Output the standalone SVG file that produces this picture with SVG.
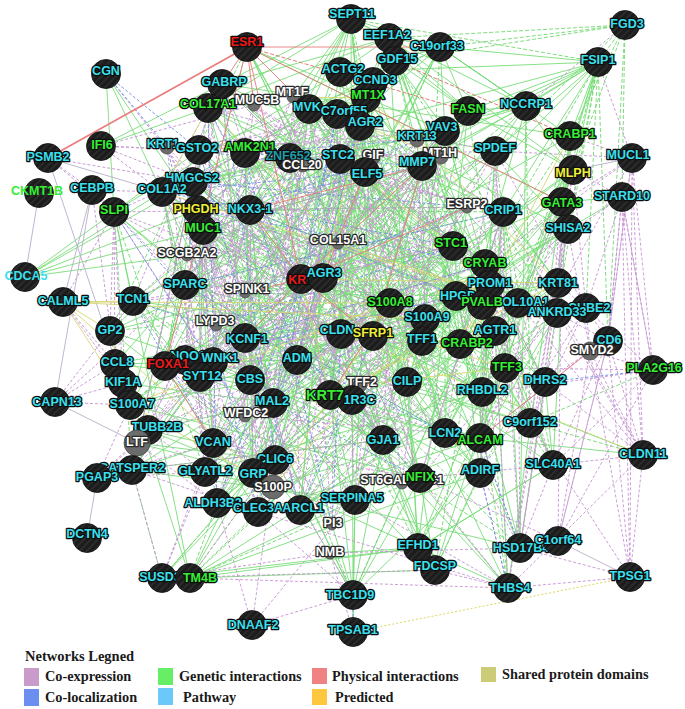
<svg xmlns="http://www.w3.org/2000/svg" width="685" height="709" viewBox="0 0 685 709">
<defs>
<pattern id="hp" width="5" height="5" patternUnits="userSpaceOnUse" patternTransform="rotate(45)"><rect width="5" height="5" fill="#1c1c1c"/><rect width="1.6" height="5" fill="#2e2e2e"/></pattern>
<style>
.n{fill:url(#hp);stroke:#111;stroke-width:0.8}
.gn{fill:#6c6c6c;stroke:#4a4a4a;stroke-width:0.8}
text{font-family:"Liberation Sans",Arial,sans-serif;font-weight:bold;font-size:12.5px;text-anchor:middle;paint-order:stroke;stroke:#0e0e0e;stroke-width:2.6px;stroke-linejoin:round}
.c{fill:#3ae0ee}.gr{fill:#36ee36}.y{fill:#f0f03a}.r{fill:#ec1a1a}.w{fill:#ffffff;stroke:#2a2a2a}.t{fill:#1e9ea8}
.nb{stroke:none}
#connectors path{fill:none;stroke-width:0.9}
.eg{stroke:#78de78}
.egc{stroke:#80e680;stroke-width:1.2}
.egd{stroke:#6fd86f;stroke-dasharray:4 2}
.ep{stroke:#c493d0;stroke-dasharray:3 2}
.ek{stroke:#b8aec8}
.eb{stroke:#6f8ee4;stroke-dasharray:3 2}
.ey{stroke:#d6d672}
.eyd{stroke:#d6d24a;stroke-dasharray:2 2}
.er{stroke:#ea7b7b}
.erd{stroke:#e06a6a;stroke-dasharray:4 2}
.lg{font-family:"Liberation Serif","Times New Roman",serif;font-size:14.3px;fill:#1a1a1a;stroke:none;text-anchor:start}
</style>
</defs>
<rect width="685" height="709" fill="#ffffff"/>
<g id="connectors">
<path class="eg" d="M351 19L185 285L355 500L422 166L545 382L222 84L482 305L353 595L162 192L530 423L337 114L341 334L435 570L250 210L275 460L445 131L297 360L213 362L323 278L420 478L340 159L407 382L247 47L390 303L132 470L193 182L130 405L309 109L495 331L508 588L197 210L213 443L526 106L460 344L352 400L485 264L253 473L245 153L250 380L440 47L133 301L300 510L573 170L273 403L366 98L110 331L190 578L114 212L383 440L468 111L245 338L518 303L453 246L480 473L199 150L200 377L395 61L558 283L258 512L365 172L330 395L373 82L425 319L520 548L503 212L480 438L208 108L422 341L456 296L568 229L205 472L598 62L505 368L389 38L490 285L217 503L495 151L482 392L340 72L557 313L418 548L562 202L445 433L360 126L373 336L301 279L203 230L553 465L570 136L165 366L351 19"/>
<path class="eg" d="M351 19L365 172L495 331L553 465L395 61L193 182L373 336L480 473L247 47L562 202L245 338L420 478L340 72L114 212L297 360L217 503L366 98L250 210L505 368L300 510L337 114L568 229L250 380L353 595L208 108L485 264L545 382L520 548L526 106L185 285L330 395L508 588L570 136L558 283L130 405L301 279L199 150L390 303L445 433L518 303L340 159L557 313L383 440L213 362L495 151L110 331L275 460L389 38L573 170L341 334L205 472L440 47L162 192L422 341L253 473L222 84L503 212L460 344L355 500L373 82L197 210L165 366L258 512L309 109L203 230L200 377L132 470L360 126L453 246L407 382L418 548L468 111L323 278L482 392L190 578L445 131L490 285L273 403L435 570L598 62L133 301L530 423L456 296L245 153L482 305L480 438L352 400L422 166L425 319L213 443L351 19"/>
<path class="eg" d="M351 19L360 126L495 151L568 229L425 319L200 377L383 440L300 510L352 400L309 109L340 159L250 210L482 305L165 366L445 433L217 503L456 296L373 82L199 150L114 212L133 301L460 344L130 405L420 478L435 570L222 84L570 136L562 202L490 285L422 341L330 395L480 473L190 578L440 47L526 106L193 182L323 278L341 334L545 382L553 465L418 548L389 38L208 108L365 172L453 246L110 331L250 380L213 443L132 470L213 362L337 114L422 166L203 230L557 313L505 368L480 438L258 512L518 303L366 98L245 153L197 210L390 303L297 360L530 423L355 500L301 279L340 72L598 62L503 212L558 283L245 338L273 403L253 473L508 588L247 47L445 131L162 192L185 285L373 336L482 392L205 472L520 548L395 61L468 111L573 170L485 264L495 331L407 382L275 460L353 595L351 19"/>
<path class="egc" d="M245 153L203 230L185 285L297 360L187 255L197 210L245 293L422 341L213 362L250 210L301 279L373 336L482 392L309 109L323 278L341 334L445 433L360 126L485 264L490 285L383 440L445 131L467 207L456 296L460 344L422 166L503 212L425 319L273 403L365 172L453 246L390 303L330 395L340 159L338 243L245 338L407 382L290 158L193 182L216 325L250 380L245 153"/>
<path class="egc" d="M245 153L323 278L273 403L203 230L341 334L365 172L185 285L445 433L453 246L297 360L360 126L390 303L187 255L485 264L330 395L197 210L490 285L340 159L245 293L383 440L338 243L422 341L445 131L245 338L213 362L467 207L407 382L250 210L456 296L290 158L301 279L460 344L193 182L373 336L422 166L216 325L482 392L503 212L250 380L309 109L425 319L245 153"/>
<path class="egd" d="M351 19L390 303L190 578L568 229L355 500L193 182L383 440L598 62L545 382L309 109L245 338L389 38L482 305L508 588L453 246L217 503L162 192L213 443L199 150L482 392L337 114L460 344L395 61L557 313L435 570L485 264L258 512L562 202L275 460L245 153L330 395L360 126L297 360L440 47L425 319L301 279L323 278L300 510L503 212L553 465L340 159L273 403L208 108L165 366L247 47L110 331L456 296L185 285L132 470L114 212L205 472L422 166L130 405L468 111L505 368L222 84L495 331L518 303L490 285L353 595L197 210L480 473L495 151L530 423L526 106L200 377L340 72L341 334L352 400L558 283L418 548L250 210L253 473L365 172L445 433L445 131L250 380L373 82L373 336L213 362L133 301L520 548L203 230L420 478L573 170L480 438L570 136L407 382L366 98L422 341L351 19"/>
<path class="egd" d="M245 153L360 126L338 243L301 279L425 319L297 360L383 440L290 158L309 109L453 246L245 293L456 296L250 380L445 433L340 159L250 210L503 212L185 285L490 285L407 382L482 392L365 172L197 210L467 207L216 325L341 334L330 395L213 362L422 166L203 230L485 264L245 338L373 336L273 403L187 255L445 131L193 182L323 278L390 303L422 341L460 344L245 153"/>
<path class="eg" d="M106 74L162 192M106 74L114 212M106 74L197 210M101 146L208 108M101 146L222 84M25 277L114 212M25 277L162 192M25 277L193 182M25 277L197 210M25 277L203 230M25 277L187 255M351 19L340 72M351 19L309 109M351 19L222 84M351 19L389 38M351 19L440 47M351 19L208 108M351 19L293 97M351 19L360 126M351 19L468 111M351 19L526 106M389 38L468 111M389 38L340 72M389 38L366 98M389 38L222 84M440 47L395 61M440 47L468 111M440 47L445 131M440 47L526 106M440 47L389 38M598 62L440 47M598 62L526 106M598 62L468 111M598 62L445 131M598 62L570 136M598 62L495 151M598 62L573 170M598 62L422 166M598 62L360 126M526 106L468 111M526 106L445 131M526 106L495 151M526 106L570 136M526 106L573 170M622 197L562 202M622 197L568 229M643 455L480 438M643 455L482 392M162 578L418 548M190 578L355 500M190 578L435 570M190 578L418 548M353 632L353 595M353 632L355 500M330 553L418 548M418 548L553 465M115 364L297 360M115 364L185 285M115 364L245 338M115 364L250 380M123 383L273 403M123 383L213 443M148 430L275 460M148 430L253 473M148 430L273 403M137 443L253 473M137 443L275 460M132 470L383 440M132 470L355 500M353 595L355 500M353 595L383 440M353 595L420 478M353 595L330 395M353 595L480 473M162 578L275 460M162 578L253 473M418 548L383 440M435 570L480 473"/>
<path class="egd" d="M625 25L440 47M625 25L389 38M625 25L395 61M625 25L598 62M625 25L570 136M625 25L573 170M625 25L622 197M625 25L495 151M625 25L608 341M598 62L351 19M598 62L562 202M598 62L568 229M598 62L608 341M598 62L586 308M526 106L440 47M643 455L530 423M653 370L530 423M162 578L253 473M190 578L420 478M190 578L217 503M162 578L132 470M190 578L258 512"/>
<path class="ep" d="M222 84L187 255L205 472L467 207L373 336L250 210L253 473L495 151L360 126L162 192L213 443L445 131L137 443L374 158L273 403L422 166L165 366L303 165L250 380L301 279L114 212L245 153L213 362L330 395L445 433L167 147L245 338L355 500L383 440L309 109L245 293L300 510L456 296L254 105L338 243L217 503L453 246L341 334L203 230L273 487L503 212L337 114L197 210L275 460L441 157L132 470L193 182L245 416L417 140L148 430L340 159L297 360L365 172L133 301L290 158L200 377L323 278L420 478L199 150L185 360L360 385L402 483L208 108L216 325L332 525L425 319L293 97L185 285L258 512L485 264L222 84"/>
<path class="ep" d="M222 84L303 165L338 243L297 360L258 512L422 166L456 296L148 430L293 97L374 158L245 293L245 416L332 525L445 131L383 440L132 470L208 108L162 192L245 338L275 460L360 385L495 151L445 433L337 114L199 150L250 210L213 362L273 487L323 278L467 207L114 212L341 334L290 158L187 255L250 380L217 503L365 172L485 264L165 366L254 105L340 159L185 285L273 403L300 510L417 140L425 319L137 443L309 109L193 182L216 325L213 443L355 500L441 157L402 483L360 126L167 147L197 210L185 360L253 473L330 395L503 212L420 478L373 336L245 153L203 230L200 377L205 472L301 279L453 246L133 301L222 84"/>
<path class="ep" d="M222 84L245 416L445 433L187 255L417 140L167 147L205 472L148 430L245 338L467 207L340 159L355 500L373 336L297 360L383 440L250 210L365 172L309 109L253 473L133 301L245 293L495 151L290 158L300 510L360 126L200 377L456 296L162 192L323 278L254 105L213 443L420 478L338 243L445 131L199 150L217 503L137 443L185 360L453 246L374 158L360 385L341 334L273 403L402 483L203 230L422 166L208 108L273 487L165 366L216 325L503 212L303 165L332 525L337 114L250 380L425 319L197 210L301 279L293 97L275 460L114 212L185 285L441 157L245 153L258 512L132 470L213 362L485 264L193 182L330 395L222 84"/>
<path class="ep" d="M245 153L453 246L490 285L213 362L193 182L425 319L445 433L197 210L245 338L460 344L309 109L185 285L330 395L445 131L301 279L250 380L365 172L485 264L422 341L290 158L503 212L341 334L187 255L338 243L456 296L482 392L203 230L390 303L383 440L250 210L216 325L273 403L360 126L245 293L407 382L422 166L323 278L297 360L340 159L467 207L373 336L245 153"/>
<path class="ep" d="M632 158L485 264L545 382L520 548L518 303L568 229L590 351L480 438L482 393L562 202L557 313L643 455L508 588L573 170L558 283L653 370L558 541L420 478L503 212L495 331L480 473L490 285L622 197L608 341L553 465L505 368L495 151L586 308L530 423L630 577L632 158"/>
<path class="ep" d="M632 158L608 341L558 541L562 202L545 382L505 368L503 212L643 455L518 303L586 308L480 473L573 170L590 351L630 577L622 197L653 370L482 393L485 264L553 465L420 478L557 313L520 548L495 151L495 331L508 588L568 229L530 423L490 285L558 283L480 438L632 158"/>
<path class="ep" d="M106 74L193 182M101 146L199 150M101 146L245 153M101 146L162 192M101 146L254 105M101 146L193 182M48 158L92 190M48 158L114 212M48 158L193 182M92 190L115 364M92 190L114 212M92 190L162 192M63 302L115 364M63 302L123 383M63 302L114 212M114 212L110 331M114 212L115 364M114 212L123 383M55 402L115 364M55 402L123 383M55 402L130 405M55 402L133 301M55 402L185 285M97 478L132 470M97 478L137 443M97 478L130 405M97 478L148 430M97 478L213 443M97 478L205 472M162 578L132 470M162 578L213 443M162 578L205 472M190 578L275 460M190 578L508 588M252 625L353 595M252 625L217 503M252 625L355 500M252 625L275 460M330 553L162 578M330 553L520 548M435 570L162 578M435 570L508 588M520 548L553 465M520 548L480 438M520 548L480 473M520 548L630 577M558 541L608 341M558 541L590 351M508 588L630 577M508 588L355 500M508 588L420 478M508 588L480 473M508 588L258 512M630 577L643 455M630 577L608 341M643 455L553 465M643 455L545 382M643 455L590 351M643 455L608 341M643 455L622 197M643 455L632 158M653 370L590 351M653 370L553 465M653 370L632 158M653 370L622 197M653 370L505 368M608 341L590 351M608 341L557 313M608 341L586 308M608 341L632 158M608 341L622 197M590 351L545 382M632 158L570 136M632 158L495 151M632 158L598 62M632 158L562 202M622 197L586 308M622 197L573 170M625 25L526 106M353 595L275 460M353 595L258 512M353 632L330 553"/>
<path class="ek" d="M48 158L162 192M48 158L130 405M39 193L25 277M92 190L55 402M55 402L137 443M97 478L87 538M632 158L573 170M558 541L630 577M63 302L92 190"/>
<path class="eb" d="M222 84L275 460L165 366L185 360L456 296L250 210L417 140L245 153L332 525L341 334L213 443L133 301L245 338L485 264L197 210L422 166L199 150L300 510L373 336L245 416L114 212L216 325L453 246L162 192L365 172L167 147L258 512L337 114L273 403L420 478L245 293L467 207L193 182L301 279L208 108L217 503L360 126L297 360L445 433L185 285L503 212"/>
<path class="eb" d="M106 74L167 147M106 74L199 150M653 370L545 382M353 632L353 595M520 548L480 438M508 588L480 473"/>
<path class="ey" d="M63 302L133 301M63 302L390 303M63 302L425 319M63 302L130 405M63 302L273 487M63 302L110 331M130 405L273 487M390 303L425 319M390 303L273 487M425 319L273 487M130 405L390 303M301 279L330 395M417 140L558 283M301 279L558 283M330 395L558 283M360 126L323 278M422 341L505 368M360 385L422 341M360 385L505 368M570 136L460 344M366 98L293 97M441 157L366 98M441 157L293 97M453 246L340 159M208 108L162 192M338 243L518 303M162 192L518 303M208 108L338 243"/>
<path class="eyd" d="M341 334L643 455M353 632L630 577"/>
<path class="er" d="M247 47L440 47M247 47L301 279M247 47L562 202M247 47L309 109M247 47L222 84M247 47L165 366M247 47L254 105M301 279L422 166M301 279L245 293M301 279L467 207M301 279L245 338M301 279L250 210M323 278L365 172M301 279L373 336M590 351L480 438M165 366L213 443M422 166L373 336M422 166L468 111M250 210L422 166M390 303L330 395"/>
<path class="er" style="stroke-width:1.6" d="M48 158L247 47"/>
<path class="erd" d="M247 47L468 111M395 61L570 136"/>
</g>
<g id="nodes">
<g id="n-ESR1"><circle class="n" cx="247" cy="47" r="14.5"/><text class="r" x="247" y="45.5">ESR1</text></g>
<g id="n-SEPT11"><circle class="n" cx="351" cy="19" r="14.5"/><text class="c" x="352" y="17.5">SEPT11</text></g>
<g id="n-EEF1A2"><circle class="n" cx="389" cy="38" r="14.5"/><text class="c" x="387" y="38.5">EEF1A2</text></g>
<g id="n-C19orf33"><circle class="n" cx="440" cy="47" r="14.5"/><text class="c" x="437" y="49.5">C19orf33</text></g>
<g id="n-GDF15"><circle class="n" cx="395" cy="61" r="14.5"/><text class="c" x="397" y="62.5">GDF15</text></g>
<g id="n-FGD3"><circle class="n" cx="625" cy="25" r="14.5"/><text class="c" x="627" y="27.5">FGD3</text></g>
<g id="n-FSIP1"><circle class="n" cx="598" cy="62" r="14.5"/><text class="c" x="598" y="63.5">FSIP1</text></g>
<g id="n-CGN"><circle class="n" cx="106" cy="74" r="14.5"/><text class="c" x="106" y="74.5">CGN</text></g>
<g id="n-GABRP"><circle class="n" cx="222" cy="84" r="14.5"/><text class="c" x="224" y="85.5">GABRP</text></g>
<g id="n-ACTG2"><circle class="n" cx="340" cy="72" r="14.5"/><text class="c" x="343" y="72.5">ACTG2</text></g>
<g id="n-CCND3"><circle class="n" cx="373" cy="82" r="14.5"/><text class="c" x="375" y="83.5">CCND3</text></g>
<g id="n-MT1X"><circle class="n" cx="366" cy="98" r="14.5"/><text class="gr" x="368" y="98.5">MT1X</text></g>
<g id="n-MT1F"><circle class="gn" cx="293" cy="97" r="6"/><text class="w" x="292" y="95.5">MT1F</text></g>
<g id="n-MUC5B"><circle class="gn" cx="254" cy="105" r="6"/><text class="w" x="257" y="103.5">MUC5B</text></g>
<g id="n-MVK"><circle class="n" cx="309" cy="109" r="14.5"/><text class="c" x="307" y="110.5">MVK</text></g>
<g id="n-C7orf55"><circle class="n" cx="337" cy="114" r="14.5"/><text class="c" x="344" y="114.5">C7orf55</text></g>
<g id="n-AGR2"><circle class="n" cx="360" cy="126" r="14.5"/><text class="c" x="365" y="125.5">AGR2</text></g>
<g id="n-COL17A1"><circle class="n" cx="208" cy="108" r="14.5"/><text class="gr" x="208" y="107.5">COL17A1</text></g>
<g id="n-NCCRP1"><circle class="n" cx="526" cy="106" r="14.5"/><text class="c" x="526" y="107.5">NCCRP1</text></g>
<g id="n-FASN"><circle class="n" cx="468" cy="111" r="14.5"/><text class="gr" x="468" y="112.5">FASN</text></g>
<g id="n-VAV3"><circle class="n" cx="445" cy="131" r="14.5"/><text class="c" x="442" y="130.5">VAV3</text></g>
<g id="n-KRT13"><circle class="gn" cx="417" cy="140" r="7"/><text class="c" x="417" y="139.5">KRT13</text></g>
<g id="n-CRABP1"><circle class="n" cx="570" cy="136" r="14.5"/><text class="gr" x="570" y="137.5">CRABP1</text></g>
<g id="n-IFI6"><circle class="n" cx="101" cy="146" r="14.5"/><text class="gr" x="102" y="148.5">IFI6</text></g>
<g id="n-PSMB2"><circle class="n" cx="48" cy="158" r="14.5"/><text class="c" x="48" y="160.5">PSMB2</text></g>
<g id="n-KRT1"><circle class="gn" cx="167" cy="147" r="7"/><text class="c" x="163" y="147.5">KRT1</text></g>
<g id="n-GSTO2"><circle class="n" cx="199" cy="150" r="14.5"/><text class="c" x="197" y="151.5">GSTO2</text></g>
<g id="n-AMK2N1"><circle class="n" cx="245" cy="153" r="14.5"/><text class="gr" x="250" y="150.5">AMK2N1</text></g>
<g id="n-ZNF652"><circle class="n" cx="290" cy="158" r="14.5"/><text class="t" x="288" y="159.5">ZNF652</text></g>
<g id="n-CCL20"><circle class="gn" cx="303" cy="166" r="6"/><text class="w" x="302" y="168.5">CCL20</text></g>
<g id="n-STC2"><circle class="n" cx="340" cy="159" r="14.5"/><text class="c" x="338" y="158.5">STC2</text></g>
<g id="n-GIF"><circle class="gn" cx="374" cy="158" r="6"/><text class="w" x="373" y="158.5">GIF</text></g>
<g id="n-MT1H"><circle class="gn" cx="441" cy="157" r="7"/><text class="w" x="440" y="156.5">MT1H</text></g>
<g id="n-MMP7"><circle class="n" cx="422" cy="166" r="14.5"/><text class="c" x="417" y="165.5">MMP7</text></g>
<g id="n-SPDEF"><circle class="n" cx="495" cy="151" r="14.5"/><text class="c" x="495" y="151.5">SPDEF</text></g>
<g id="n-MUCL1"><circle class="n" cx="632" cy="158" r="14.5"/><text class="c" x="628" y="158.5">MUCL1</text></g>
<g id="n-ELF5"><circle class="n" cx="365" cy="172" r="14.5"/><text class="c" x="367" y="178">ELF5</text></g>
<g id="n-GATA3"><circle class="n" cx="562" cy="202" r="14.5"/><text class="gr" x="562" y="206.5">GATA3</text></g>
<g id="n-MLPH"><circle class="n" cx="573" cy="170" r="14.5"/><text class="y" x="573" y="177">MLPH</text></g>
<g id="n-HMGCS2"><circle class="n" cx="193" cy="182" r="14.5"/><text class="c" x="192" y="181.5">HMGCS2</text></g>
<g id="n-CKMT1B"><circle class="n" cx="39" cy="193" r="14.5"/><text class="gr nb" x="37" y="194.5">CKMT1B</text></g>
<g id="n-CEBPB"><circle class="n" cx="92" cy="190" r="14.5"/><text class="c" x="92" y="191.5">CEBPB</text></g>
<g id="n-COL1A2"><circle class="n" cx="162" cy="192" r="14.5"/><text class="c" x="162" y="192.5">COL1A2</text></g>
<g id="n-STARD10"><circle class="n" cx="622" cy="197" r="14.5"/><text class="c" x="622" y="199.5">STARD10</text></g>
<g id="n-ESRP2"><circle class="gn" cx="467" cy="207" r="6"/><text class="w" x="467" y="207.5">ESRP2</text></g>
<g id="n-CRIP1"><circle class="n" cx="503" cy="212" r="14.5"/><text class="c" x="503" y="213.5">CRIP1</text></g>
<g id="n-SLPI"><circle class="n" cx="114" cy="212" r="14.5"/><text class="gr" x="114" y="213.5">SLPI</text></g>
<g id="n-PHGDH"><circle class="n" cx="197" cy="210" r="14.5"/><text class="y" x="196" y="212.5">PHGDH</text></g>
<g id="n-NKX3-1"><circle class="n" cx="250" cy="210" r="14.5"/><text class="c" x="250" y="212.5">NKX3-1</text></g>
<g id="n-MUC1"><circle class="n" cx="203" cy="230" r="14.5"/><text class="gr" x="203" y="231.5">MUC1</text></g>
<g id="n-SHISA2"><circle class="n" cx="568" cy="229" r="14.5"/><text class="c" x="568" y="231.5">SHISA2</text></g>
<g id="n-COL15A1"><circle class="gn" cx="338" cy="243" r="6"/><text class="w" x="338" y="243.5">COL15A1</text></g>
<g id="n-STC1"><circle class="n" cx="453" cy="246" r="14.5"/><text class="gr" x="451" y="246.5">STC1</text></g>
<g id="n-SCGB2A2"><circle class="gn" cx="187" cy="255" r="6"/><text class="w" x="187" y="256.5">SCGB2A2</text></g>
<g id="n-CRYAB"><circle class="n" cx="485" cy="264" r="14.5"/><text class="gr" x="485" y="266.5">CRYAB</text></g>
<g id="n-CDCA5"><circle class="n" cx="25" cy="277" r="14.5"/><text class="c nb" x="26" y="279.5">CDCA5</text></g>
<g id="n-KRT17"><circle class="n" cx="301" cy="279" r="14.5"/><text class="r" x="308" y="283.5">KRT17</text></g>
<g id="n-AGR3"><circle class="n" cx="323" cy="278" r="14.5"/><text class="c" x="324" y="276.5">AGR3</text></g>
<g id="n-SPARC"><circle class="n" cx="185" cy="285" r="14.5"/><text class="c" x="185" y="287.5">SPARC</text></g>
<g id="n-PROM1"><circle class="n" cx="490" cy="285" r="14.5"/><text class="c" x="490" y="286.5">PROM1</text></g>
<g id="n-KRT81"><circle class="n" cx="558" cy="283" r="14.5"/><text class="c" x="558" y="286.5">KRT81</text></g>
<g id="n-SPINK1"><circle class="gn" cx="245" cy="293" r="5"/><text class="w" x="247" y="292.5">SPINK1</text></g>
<g id="n-HPGD"><circle class="n" cx="456" cy="296" r="14.5"/><text class="c" x="458" y="299.5">HPGD</text></g>
<g id="n-COL10A1"><circle class="n" cx="518" cy="303" r="14.5"/><text class="c" x="521" y="305.5">COL10A1</text></g>
<g id="n-PVALB"><circle class="n" cx="482" cy="305" r="14.5"/><text class="gr" x="482" y="305.5">PVALB</text></g>
<g id="n-CALML5"><circle class="n" cx="63" cy="302" r="14.5"/><text class="c" x="63" y="304.5">CALML5</text></g>
<g id="n-TCN1"><circle class="n" cx="133" cy="301" r="14.5"/><text class="c" x="133" y="302.5">TCN1</text></g>
<g id="n-S100A8"><circle class="n" cx="390" cy="303" r="14.5"/><text class="gr" x="390" y="305.5">S100A8</text></g>
<g id="n-SCUBE2"><circle class="n" cx="586" cy="308" r="14.5"/><text class="c" x="585" y="311.5">SCUBE2</text></g>
<g id="n-ANKRD33"><circle class="n" cx="557" cy="313" r="14.5"/><text class="c" x="557" y="315.5">ANKRD33</text></g>
<g id="n-S100A9"><circle class="n" cx="425" cy="319" r="14.5"/><text class="c" x="427" y="320.5">S100A9</text></g>
<g id="n-LYPD3"><circle class="gn" cx="216" cy="325" r="6"/><text class="w" x="215" y="324.5">LYPD3</text></g>
<g id="n-GP2"><circle class="n" cx="110" cy="331" r="14.5"/><text class="c" x="110" y="333.5">GP2</text></g>
<g id="n-AGTR1"><circle class="n" cx="495" cy="331" r="14.5"/><text class="c" x="495" y="333.5">AGTR1</text></g>
<g id="n-CLDN"><circle class="n" cx="341" cy="334" r="14.5"/><text class="c" x="337" y="333.5">CLDN</text></g>
<g id="n-SFRP1"><circle class="n" cx="373" cy="336" r="14.5"/><text class="y" x="373" y="336.5">SFRP1</text></g>
<g id="n-TFF1"><circle class="n" cx="422" cy="341" r="14.5"/><text class="c" x="422" y="342.5">TFF1</text></g>
<g id="n-KCNF1"><circle class="n" cx="245" cy="338" r="14.5"/><text class="c" x="247" y="342.5">KCNF1</text></g>
<g id="n-CRABP2"><circle class="n" cx="460" cy="344" r="14.5"/><text class="gr" x="467" y="346.5">CRABP2</text></g>
<g id="n-CD6"><circle class="n" cx="608" cy="341" r="14.5"/><text class="c" x="609" y="343.5">CD6</text></g>
<g id="n-SMYD2"><circle class="gn" cx="590" cy="351" r="9"/><text class="w" x="592" y="353.5">SMYD2</text></g>
<g id="n-ADM"><circle class="n" cx="297" cy="360" r="14.5"/><text class="c" x="297" y="361.5">ADM</text></g>
<g id="n-NQO1"><circle class="n" cx="185" cy="360" r="14.5"/><text class="c" x="188" y="359.5">NQO1</text></g>
<g id="n-FOXA1"><circle class="n" cx="165" cy="366" r="14.5"/><text class="r" x="168" y="367.5">FOXA1</text></g>
<g id="n-WNK1"><circle class="n" cx="213" cy="362" r="14.5"/><text class="c" x="220" y="361.5">WNK1</text></g>
<g id="n-SYT12"><circle class="n" cx="200" cy="377" r="14.5"/><text class="c" x="202" y="379.5">SYT12</text></g>
<g id="n-CCL8"><circle class="n" cx="115" cy="364" r="14.5"/><text class="c" x="117" y="365.5">CCL8</text></g>
<g id="n-TFF3"><circle class="n" cx="505" cy="368" r="14.5"/><text class="gr" x="507" y="370.5">TFF3</text></g>
<g id="n-PLA2G16"><circle class="n" cx="653" cy="370" r="14.5"/><text class="gr" x="654" y="371.5">PLA2G16</text></g>
<g id="n-CBS"><circle class="n" cx="250" cy="380" r="14.5"/><text class="c" x="250" y="382.5">CBS</text></g>
<g id="n-CILP"><circle class="n" cx="407" cy="382" r="14.5"/><text class="c" x="407" y="384.5">CILP</text></g>
<g id="n-TFF2"><circle class="gn" cx="360" cy="385" r="7"/><text class="w" x="362" y="385.5">TFF2</text></g>
<g id="n-DHRS2"><circle class="n" cx="545" cy="382" r="14.5"/><text class="c" x="545" y="383.5">DHRS2</text></g>
<g id="n-KIF1A"><circle class="n" cx="123" cy="383" r="14.5"/><text class="c" x="123" y="385.5">KIF1A</text></g>
<g id="n-RHBDL2"><circle class="n" cx="482" cy="392" r="14.5"/><text class="c" x="482" y="393.5">RHBDL2</text></g>
<g id="n-PPP1R3C"><circle class="n" cx="352" cy="400" r="14.5"/><text class="c" x="347" y="403.5">PPP1R3C</text></g>
<g id="n-KRT7"><circle class="n" cx="330" cy="395" r="14.5"/><text class="gr" x="325" y="400" style="font-size:14.5px">KRT7</text></g>
<g id="n-MAL2"><circle class="n" cx="273" cy="403" r="14.5"/><text class="c" x="272" y="404.5">MAL2</text></g>
<g id="n-CAPN13"><circle class="n" cx="55" cy="402" r="14.5"/><text class="c" x="57" y="405.5">CAPN13</text></g>
<g id="n-S100A7"><circle class="n" cx="130" cy="405" r="14.5"/><text class="c" x="132" y="407.5">S100A7</text></g>
<g id="n-WFDC2"><circle class="gn" cx="245" cy="416" r="6"/><text class="w" x="246" y="416.5">WFDC2</text></g>
<g id="n-C9orf152"><circle class="n" cx="530" cy="423" r="14.5"/><text class="c" x="530" y="425.5">C9orf152</text></g>
<g id="n-TUBB2B"><circle class="n" cx="148" cy="430" r="14.5"/><text class="c" x="157" y="430.5">TUBB2B</text></g>
<g id="n-LTF"><circle class="gn" cx="137" cy="443" r="13"/><text class="w" x="137" y="445.5">LTF</text></g>
<g id="n-LCN2"><circle class="n" cx="445" cy="433" r="14.5"/><text class="c" x="445" y="436.5">LCN2</text></g>
<g id="n-ALCAM"><circle class="n" cx="480" cy="438" r="14.5"/><text class="gr" x="480" y="443.5">ALCAM</text></g>
<g id="n-GJA1"><circle class="n" cx="383" cy="440" r="14.5"/><text class="c" x="383" y="443.5">GJA1</text></g>
<g id="n-VCAN"><circle class="n" cx="213" cy="443" r="14.5"/><text class="c" x="213" y="445.5">VCAN</text></g>
<g id="n-CLDN11"><circle class="n" cx="643" cy="455" r="14.5"/><text class="c" x="643" y="457.5">CLDN11</text></g>
<g id="n-CLIC6"><circle class="n" cx="275" cy="460" r="14.5"/><text class="c" x="275" y="462.5">CLIC6</text></g>
<g id="n-SLC40A1"><circle class="n" cx="553" cy="465" r="14.5"/><text class="c" x="553" y="467.5">SLC40A1</text></g>
<g id="n-CATSPER2"><circle class="n" cx="132" cy="470" r="14.5"/><text class="c" x="132" y="471.5">CATSPER2</text></g>
<g id="n-GLYATL2"><circle class="n" cx="205" cy="472" r="14.5"/><text class="c" x="205" y="474.5">GLYATL2</text></g>
<g id="n-ADIRF"><circle class="n" cx="480" cy="473" r="14.5"/><text class="c" x="480" y="473.5">ADIRF</text></g>
<g id="n-GRP"><circle class="n" cx="253" cy="473" r="14.5"/><text class="c" x="253" y="477.5">GRP</text></g>
<g id="n-S100P"><circle class="gn" cx="273" cy="487" r="12"/><text class="w" x="273" y="490.5">S100P</text></g>
<g id="n-PGAP3"><circle class="n" cx="97" cy="478" r="14.5"/><text class="c" x="97" y="480.5">PGAP3</text></g>
<g id="n-ST6GALNAC1"><circle class="gn" cx="402" cy="483" r="6"/><text class="w" x="402" y="483.5">ST6GALNAC1</text></g>
<g id="n-NFIX"><circle class="n" cx="420" cy="478" r="14.5"/><text class="gr" x="420" y="480.5">NFIX</text></g>
<g id="n-SERPINA5"><circle class="n" cx="355" cy="500" r="14.5"/><text class="c" x="352" y="501.5">SERPINA5</text></g>
<g id="n-ALDH3B2"><circle class="n" cx="217" cy="503" r="14.5"/><text class="c" x="213" y="506.5">ALDH3B2</text></g>
<g id="n-CLEC3A"><circle class="n" cx="258" cy="512" r="14.5"/><text class="c" x="258" y="511.5">CLEC3A</text></g>
<g id="n-ARCL1"><circle class="n" cx="300" cy="510" r="14.5"/><text class="c" x="303" y="511.5">ARCL1</text></g>
<g id="n-PI3"><circle class="gn" cx="332" cy="525" r="5"/><text class="w" x="333" y="526.5">PI3</text></g>
<g id="n-DCTN4"><circle class="n" cx="87" cy="538" r="14.5"/><text class="c" x="87" y="537.5">DCTN4</text></g>
<g id="n-HSD17B4"><circle class="n" cx="520" cy="548" r="14.5"/><text class="c" x="521" y="552">HSD17B4</text></g>
<g id="n-C1orf64"><circle class="n" cx="558" cy="541" r="14.5"/><text class="c" x="558" y="543.5">C1orf64</text></g>
<g id="n-EFHD1"><circle class="n" cx="418" cy="548" r="14.5"/><text class="c" x="418" y="548.5">EFHD1</text></g>
<g id="n-NMB"><circle class="gn" cx="330" cy="553" r="6"/><text class="w" x="330" y="555.5">NMB</text></g>
<g id="n-FDCSP"><circle class="n" cx="435" cy="570" r="14.5"/><text class="c" x="435" y="569.5">FDCSP</text></g>
<g id="n-TPSG1"><circle class="n" cx="630" cy="577" r="14.5"/><text class="c" x="630" y="579.5">TPSG1</text></g>
<g id="n-SUSD3"><circle class="n" cx="162" cy="578" r="14.5"/><text class="c" x="160" y="580.5">SUSD3</text></g>
<g id="n-TM4B"><circle class="n" cx="190" cy="578" r="14.5"/><text class="gr" x="200" y="581.5">TM4B</text></g>
<g id="n-THBS4"><circle class="n" cx="508" cy="588" r="14.5"/><text class="c" x="510" y="591.5">THBS4</text></g>
<g id="n-TBC1D9"><circle class="n" cx="353" cy="595" r="14.5"/><text class="c" x="350" y="598.5">TBC1D9</text></g>
<g id="n-DNAAF2"><circle class="n" cx="252" cy="625" r="14.5"/><text class="c" x="253" y="628.5">DNAAF2</text></g>
<g id="n-TPSAB1"><circle class="n" cx="353" cy="632" r="14.5"/><text class="c" x="353" y="633.5">TPSAB1</text></g>
</g>
<g id="legend">
<text class="lg" x="25" y="661" style="font-size:14.5px">Networks Legned</text>
<rect x="24" y="668" width="15" height="18" fill="#c99bcb"/>
<text class="lg" x="45" y="681">Co-expression</text>
<rect x="24" y="689" width="15" height="17" fill="#6b8ff0"/>
<text class="lg" x="45" y="702">Co-localization</text>
<rect x="158" y="668" width="15" height="17" fill="#66ee66"/>
<text class="lg" x="179" y="681">Genetic interactions</text>
<rect x="158" y="688" width="15" height="17" fill="#6cc8f8"/>
<text class="lg" x="183" y="702">Pathway</text>
<rect x="312" y="668" width="15" height="16" fill="#f08284"/>
<text class="lg" x="332" y="681">Physical interactions</text>
<rect x="312" y="689" width="15" height="16" fill="#fdc83e"/>
<text class="lg" x="335" y="702">Predicted</text>
<rect x="481" y="667" width="15" height="15" fill="#cccc77"/>
<text class="lg" x="502" y="679">Shared protein domains</text>
</g>
</svg>
